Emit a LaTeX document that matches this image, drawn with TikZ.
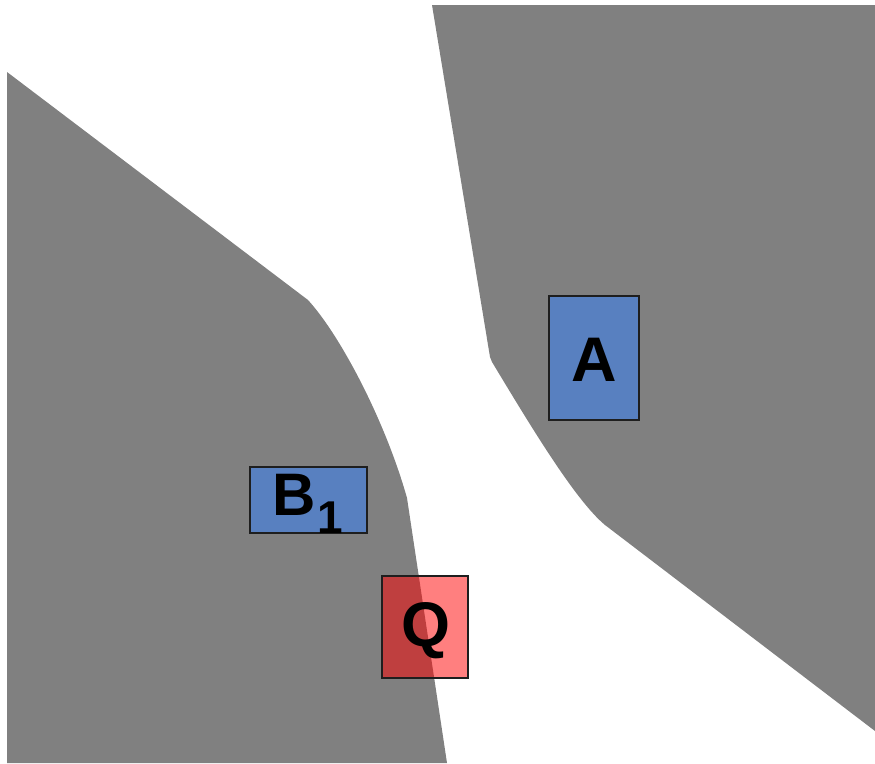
\documentclass[tikz,border=0pt]{standalone}
\usepackage{fontspec}
\setmainfont{Liberation Sans}
\definecolor{regiongray}{RGB}{128,128,128}
\definecolor{boxblue}{RGB}{88,128,192}
\definecolor{boxred}{RGB}{255,0,0}
\definecolor{boxline}{RGB}{30,30,30}
\tikzset{
  region/.style={fill=regiongray, draw=none},
  bluebox/.style={draw=boxline, line width=1.3pt, fill=boxblue, inner sep=0pt},
  redbox/.style={draw=boxline, line width=1.3pt, fill=boxred, fill opacity=0.5, draw opacity=1, inner sep=0pt},
  label/.style={inner sep=0pt, anchor=base, text=black, font=\bfseries}
}
\begin{document}
\begin{tikzpicture}[x=1pt,y=-1pt]
\useasboundingbox (0,0) rectangle (875,763);
% left region
\path[region] (7,72) -- (308,300) .. controls (340,335) and (385,420) .. (407,498)
  -- (447,763) -- (7,763) -- cycle;
% right region
\path[region] (432,5) -- (490,357) -- (492,362) .. controls (530,425) and (575,500) .. (605,525)
  -- (875,731) -- (875,5) -- cycle;
% boxes
\node[bluebox, minimum width=90pt, minimum height=124pt] (A) at (594,358) {};
\node[bluebox, minimum width=117pt, minimum height=66pt] (B) at (308.5,500) {};
\node[redbox, minimum width=86pt, minimum height=102pt] (Q) at (425,627) {};
% labels
\node[label, font=\bfseries\fontsize{63}{70}\selectfont] (Alab) at (594,381) {A};
\node[label, font=\bfseries\fontsize{60}{66}\selectfont] (Blab) at (307.5,515) {B\kern2pt\raisebox{-18pt}{\fontsize{46}{50}\selectfont 1}};
\node[label, font=\bfseries\fontsize{63}{70}\selectfont] (Qlab) at (426,646) {Q};
\end{tikzpicture}
\end{document}
